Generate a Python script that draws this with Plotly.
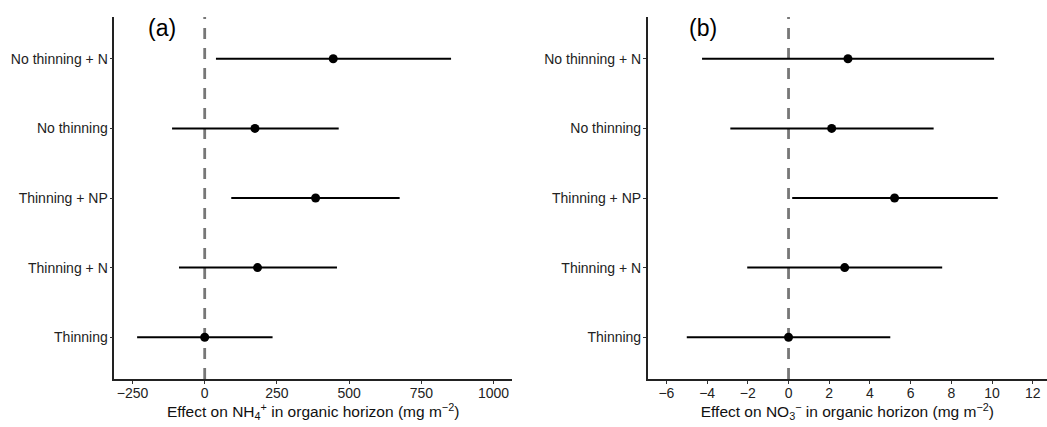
import plotly.graph_objects as go

categories = ["Thinning", "Thinning + N", "Thinning + NP", "No thinning", "No thinning + N"]

nh4_est = [0, 183, 384, 174, 445]
nh4_lo = [-234, -89, 92, -113, 39]
nh4_hi = [235, 458, 675, 464, 853]

no3_est = [0, 2.76, 5.21, 2.12, 2.92]
no3_lo = [-5.0, -2.03, 0.18, -2.86, -4.25]
no3_hi = [5.0, 7.55, 10.28, 7.13, 10.1]

nh4_ticks = [-250, 0, 250, 500, 750, 1000]
no3_ticks = [-6, -4, -2, 0, 2, 4, 6, 8, 10, 12]

FONT = "Liberation Sans, Arial, sans-serif"

fig = go.Figure()

def add_panel(est, lo, hi, xa, ya):
    fig.add_trace(go.Scatter(
        x=est, y=list(range(1, len(categories) + 1)),
        mode="markers",
        marker=dict(color="black", size=9),
        error_x=dict(type="data", symmetric=False,
                     array=[h - e for h, e in zip(hi, est)],
                     arrayminus=[e - l for e, l in zip(est, lo)],
                     width=0, thickness=2, color="black"),
        xaxis=xa, yaxis=ya, showlegend=False, hoverinfo="skip",
    ))

add_panel(nh4_est, nh4_lo, nh4_hi, "x", "y")
add_panel(no3_est, no3_lo, no3_hi, "x2", "y2")

axis_common = dict(
    showline=True, linecolor="#222", linewidth=1.5,
    ticks="outside", ticklen=3, tickcolor="#333", tickwidth=1,
    showgrid=False, zeroline=False, mirror=False,
    tickfont=dict(family=FONT, size=14, color="#222"),
)

ydom = [1 - 379 / 427, 1 - 17 / 427]

fig.update_layout(
    width=1047, height=427,
    margin=dict(l=0, r=0, t=0, b=0),
    plot_bgcolor="white", paper_bgcolor="white",
    font=dict(family=FONT, color="#222"),
    xaxis=dict(domain=[114.3 / 1047, 512 / 1047], range=[-313, 1064],
               tickvals=nh4_ticks, ticktext=[str(t).replace("-", "\u2212") for t in nh4_ticks],
               anchor="y", ticklabelstandoff=-3,
               title=dict(text="Effect on NH<sub>4</sub><sup>+</sup> in organic horizon (mg m<sup>\u22122</sup>)",
                          font=dict(family=FONT, size=15.5, color="#111"), standoff=4),
               **axis_common),
    yaxis=dict(domain=ydom, range=[0.4, 5.6], anchor="x", ticklabelstandoff=-1,
               tickvals=list(range(1, 6)), ticktext=categories, **axis_common),
    xaxis2=dict(domain=[647.7 / 1047, 1.0], range=[-6.92, 12.7],
                tickvals=no3_ticks, ticktext=[str(t).replace("-", "\u2212") for t in no3_ticks],
                anchor="y2", ticklabelstandoff=-3,
                title=dict(text="Effect on NO<sub>3</sub><sup>\u2212</sup> in organic horizon (mg m<sup>\u22122</sup>)",
                           font=dict(family=FONT, size=15.5, color="#111"), standoff=4),
                **axis_common),
    yaxis2=dict(domain=ydom, range=[0.4, 5.6], anchor="x2", ticklabelstandoff=-1,
                tickvals=list(range(1, 6)), ticktext=categories, **axis_common),
)

for xr, yr in [("x", "y domain"), ("x2", "y2 domain")]:
    fig.add_shape(type="line", xref=xr, yref=yr, x0=0, x1=0, y0=0, y1=1,
                  line=dict(color="#777", width=2.8, dash="11px,9px"), layer="below")

fig.add_annotation(text="(a)", xref="paper", yref="paper", x=162 / 1047, y=1 - 28 / 427,
                   xanchor="center", yanchor="middle",
                   showarrow=False, font=dict(family=FONT, size=23, color="black"))
fig.add_annotation(text="(b)", xref="paper", yref="paper", x=703 / 1047, y=1 - 28 / 427,
                   xanchor="center", yanchor="middle",
                   showarrow=False, font=dict(family=FONT, size=23, color="black"))

fig.write_html("out.html")
